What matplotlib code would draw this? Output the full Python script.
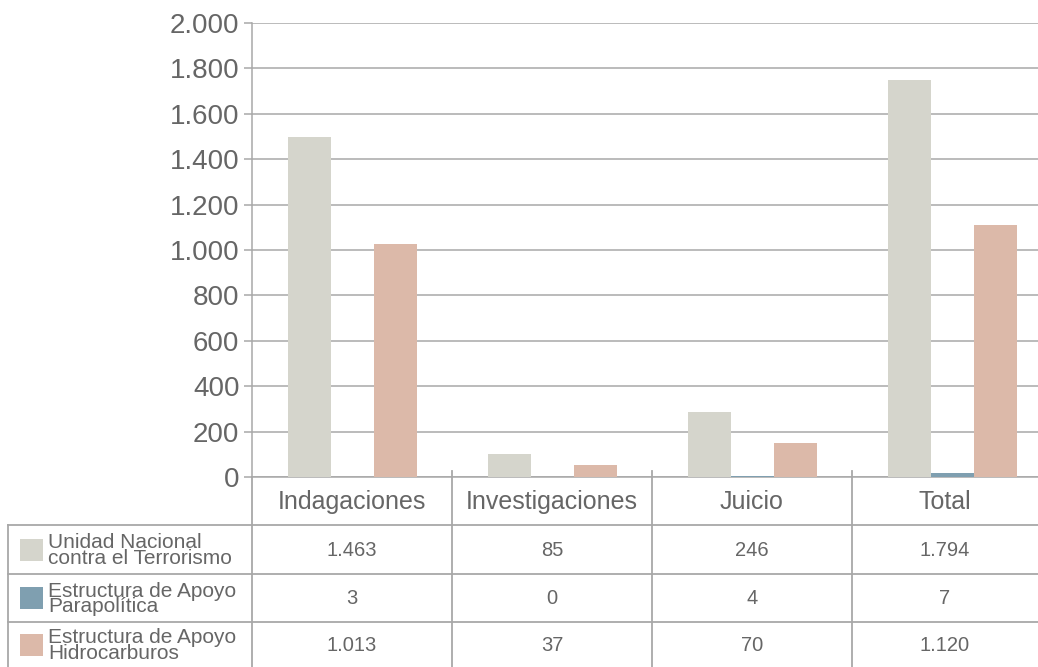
import matplotlib.pyplot as plt
from matplotlib.lines import Line2D
from matplotlib.patches import Rectangle

# ---------------------------------- DATA -----------------------------------------
categories = ['Indagaciones', 'Investigaciones', 'Juicio', 'Total']
series_names = ['Unidad Nacional\ncontra el Terrorismo',
                'Estructura de Apoyo\nParapolítica',
                'Estructura de Apoyo\nHidrocarburos']
# bar heights as drawn in the chart
bars_terrorismo = [1498, 101, 286, 1749]
bars_parapolitica = [2, 0, 6, 18]
bars_hidrocarburos = [1026, 53, 150, 1110]
# numbers printed in the data table
table_terrorismo = ['1.463', '85', '246', '1.794']
table_parapolitica = ['3', '0', '4', '7']
table_hidrocarburos = ['1.013', '37', '70', '1.120']
yticks = [0, 200, 400, 600, 800, 1000, 1200, 1400, 1600, 1800, 2000]
ytick_labels = ['0', '200', '400', '600', '800', '1.000', '1.200', '1.400', '1.600', '1.800', '2.000']
# ----------------------------------------------------------------------------------

colors = ['#d5d5cc', '#7f9fb0', '#dcb9a9']
line_c = '#a8a8a8'
text_c = '#666666'
plt.rcParams['font.family'] = ['Liberation Sans', 'DejaVu Sans']

W, H = 1038, 667
fig = plt.figure(figsize=(W / 100, H / 100), dpi=100)

# pixel overlay for the data table
ov = fig.add_axes([0, 0, 1, 1])
ov.set_xlim(0, W)
ov.set_ylim(H, 0)
ov.axis('off')

ax = fig.add_axes([252 / W, (H - 477) / H, (W - 252) / W, (477 - 23) / H])
ax.set_ylim(0, 2000)
ax.set_xlim(-0.5, 3.43)
bw = 0.215
x = range(len(categories))
series = [bars_terrorismo, bars_parapolitica, bars_hidrocarburos]
for k, vals in enumerate(series):
    ax.bar([i + (k - 1) * bw for i in x], vals, width=bw, color=colors[k], zorder=3)

ax.set_yticks(yticks)
ax.set_yticklabels(ytick_labels, fontsize=20, color=text_c)
ax.set_xticks([])
ax.grid(axis='y', color=line_c, linewidth=1.1, zorder=0)
for s in ['top', 'right']:
    ax.spines[s].set_visible(False)
ax.spines['left'].set_color(line_c)
ax.spines['bottom'].set_color(line_c)
ax.spines['left'].set_linewidth(1.1)
ax.spines['bottom'].set_linewidth(1.1)
ax.tick_params(axis='y', length=6, color=line_c, width=1.1, pad=3)
ax.patch.set_alpha(0)

# ---------------------------------- TABLE -----------------------------------------
col_edges = [252, 452, 652, 852, W]
row_edges = [525, 574, 622, H]
lw = 1.3
for xe in col_edges[:-1]:
    top = 477 if xe == 252 else 471
    ov.add_line(Line2D([xe, xe], [top, H], color=line_c, lw=lw))
ov.add_line(Line2D([8, 8], [525, H], color=line_c, lw=lw))
for ye in row_edges[:-1]:
    ov.add_line(Line2D([8, W], [ye, ye], color=line_c, lw=lw))

for i, cat in enumerate(categories):
    cx = (col_edges[i] + col_edges[i + 1]) / 2
    ov.text(cx, 502, cat, ha='center', va='center', fontsize=18, color=text_c)

table_rows = [table_terrorismo, table_parapolitica, table_hidrocarburos]
for r, (name, vals) in enumerate(zip(series_names, table_rows)):
    y0, y1 = row_edges[r], row_edges[r + 1]
    ym = (y0 + y1) / 2
    ov.add_patch(Rectangle((20, ym - 11), 23, 22, color=colors[r], lw=0))
    ov.text(48, ym + 1, name, ha='left', va='center', fontsize=15,
            color=text_c, linespacing=0.78)
    for i, v in enumerate(vals):
        cx = (col_edges[i] + col_edges[i + 1]) / 2
        ov.text(cx, ym + 1, v, ha='center', va='center', fontsize=14.5, color=text_c)

fig.savefig('out.png', dpi=100)
